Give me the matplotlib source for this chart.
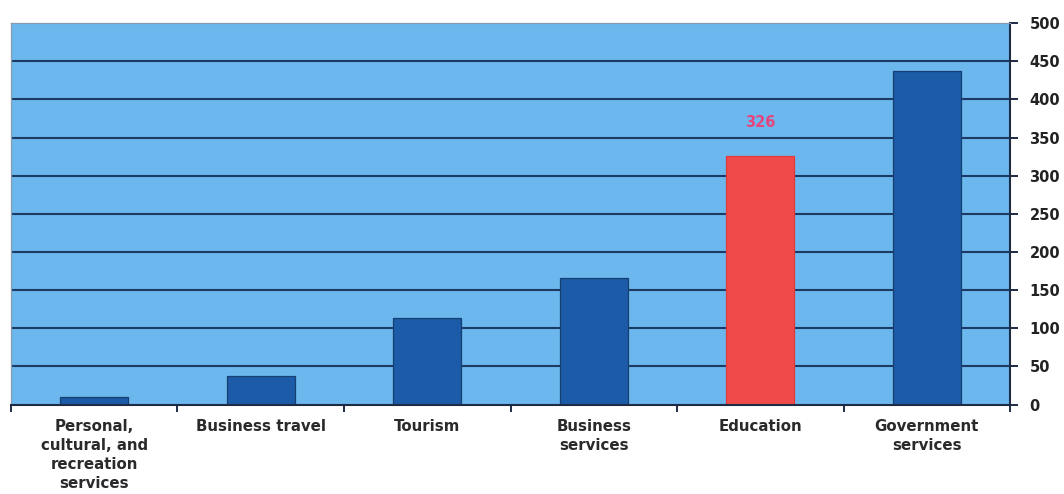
import matplotlib
matplotlib.use("Agg")
import matplotlib.pyplot as plt
import numpy as np

categories = ["Personal,\ncultural, and\nrecreation\nservices", "Business travel", "Tourism",
              "Business\nservices", "Education", "Government\nservices"]
values = [10, 38, 113, 166, 326, 437]
highlight = "Education"
yticks = [0, 50, 100, 150, 200, 250, 300, 350, 400, 450, 500]

plt.rcParams['font.family'] = ['DejaVu Sans']

fig = plt.figure(figsize=(10.64, 4.94), dpi=100)
ax = fig.add_axes([0.0103, 0.181, 0.939, 0.772])
ax.set_facecolor("#6bb7ee")

x = np.arange(len(categories))
colors = ["#f04a4a" if c == highlight else "#1b5ba7" for c in categories]
edges = ["#e03a3a" if c == highlight else "#163f72" for c in categories]

for yt in yticks[1:-1]:
    ax.axhline(yt, color="#1d3a64", lw=1.5, zorder=1)

ax.bar(x, values, width=0.41, color=colors, edgecolor=edges, linewidth=0.9, zorder=2)

hi = categories.index(highlight)
ax.text(x[hi], values[hi] + 44, f"{values[hi]}", ha="center", va="center",
        color="#e6457e", fontsize=10.5, fontweight="bold")

ax.set_xlim(-0.5, len(categories) - 0.5)
ax.set_ylim(0, 500)

ax.yaxis.tick_right()
ax.set_yticks(yticks)
ax.set_yticklabels([str(v) for v in yticks], fontsize=10.5, fontweight="bold", color="#222222")
ax.tick_params(axis="y", direction="out", length=6, width=1.4, color="#1d2b44", pad=8)

ax.set_xticks(np.arange(-0.5, len(categories) - 0.4, 1.0))
ax.set_xticklabels([])
ax.tick_params(axis="x", direction="out", length=5, width=1.4, color="#1d2b44")
for xi, lab in zip(x, categories):
    ax.text(xi, -19, lab, ha="center", va="top", fontsize=10.8, fontweight="bold",
            color="#2a2a2a", linespacing=1.32, transform=ax.transData)

for side in ("left", "top"):
    ax.spines[side].set_color("#8a9aae")
    ax.spines[side].set_linewidth(0.9)
for side in ("right", "bottom"):
    ax.spines[side].set_color("#1d2b44")
    ax.spines[side].set_linewidth(1.5)

fig.savefig("out.png", dpi=100, facecolor="white")
